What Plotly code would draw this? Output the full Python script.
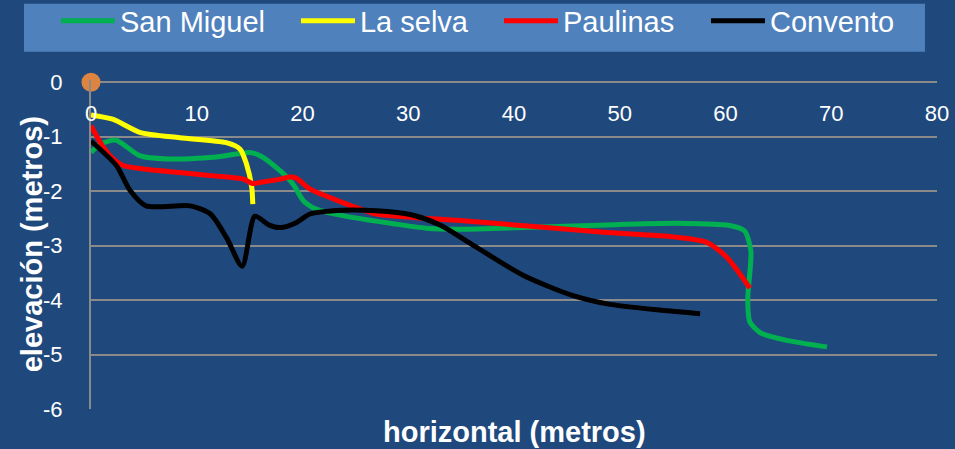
import plotly.graph_objects as go

# Perfiles de elevación (distancia horizontal en m, elevación en m)
san_miguel_x = [0, 0.85, 2.3, 3.05, 4.6, 7.2, 11.6, 15.0, 16.0, 17.9, 19.1, 20.1, 21.3, 23.8,
                28.6, 31.7, 34.9, 42.5, 48.8, 55.1, 57.6, 60.4, 61.8, 62.4, 62.1, 62.3, 63.3, 65.8, 69.6]
san_miguel_y = [-1.29, -1.14, -1.06, -1.14, -1.35, -1.41, -1.38, -1.29, -1.35, -1.63, -1.87, -2.18, -2.33, -2.45,
                -2.6, -2.68, -2.70, -2.66, -2.62, -2.59, -2.6, -2.63, -2.73, -3.1, -4.0, -4.4, -4.6, -4.74, -4.86]

la_selva_x = [0, 2.05, 4.6, 8.4, 12.8, 14.1, 14.7, 15.2, 15.3]
la_selva_y = [-0.6, -0.68, -0.92, -1.02, -1.11, -1.23, -1.5, -1.93, -2.24]

paulinas_x = [0, 0.8, 1.8, 3.05, 5.2, 8.4, 11.6, 14.4, 15.3, 16.0, 17.9, 18.8, 19.4, 20.7, 23.8,
              27.0, 30.2, 34.9, 42.5, 48.8, 55.1, 58.2, 60.1, 62.3]
paulinas_y = [-0.8, -1.08, -1.35, -1.53, -1.6, -1.66, -1.72, -1.78, -1.86, -1.84, -1.78, -1.74, -1.76, -1.96, -2.21,
              -2.42, -2.48, -2.54, -2.66, -2.76, -2.84, -2.94, -3.21, -3.78]

convento_x = [0, 2.4, 3.7, 5.2, 9.4, 11.3, 12.8, 14.3, 15.5, 16.8, 17.9, 19.4, 20.7, 23.8,
              27.0, 30.2, 33.0, 36.2, 40.9, 45.6, 48.8, 53.5, 57.6]
convento_y = [-1.08, -1.53, -1.99, -2.27, -2.27, -2.42, -2.85, -3.38, -2.46, -2.62, -2.67, -2.58, -2.42, -2.35,
              -2.36, -2.43, -2.62, -3.0, -3.55, -3.92, -4.07, -4.18, -4.25]

origen_x = [0]
origen_y = [0]

x_ticks = [0, 10, 20, 30, 40, 50, 60, 70, 80]
y_ticks = [0, -1, -2, -3, -4, -5, -6]
y_tick_text = ["0", "-1", "-2", "-3", "-4", "-5", "-6"]

BG = "#1F497D"
GRID = "#8A8A8A"
FONT = "Liberation Sans"

series = [
    ("San Miguel", san_miguel_x, san_miguel_y, "#00B050", 171),
    ("La selva", la_selva_x, la_selva_y, "#FFFF00", 134),
    ("Paulinas", paulinas_x, paulinas_y, "#FF0000", 138),
    ("Convento", convento_x, convento_y, "#000000", 130),
]

fig = go.Figure()
for name, xs, ys, color, lw in series:
    fig.add_trace(go.Scatter(
        x=xs, y=ys, name=name, mode="lines",
        line=dict(color=color, width=5, shape="spline", smoothing=0.7),
        legendwidth=lw,
    ))

fig.add_trace(go.Scatter(
    x=origen_x, y=origen_y, mode="markers", showlegend=False,
    marker=dict(color="#DD8441", size=19), cliponaxis=False,
))

fig.update_layout(
    width=955, height=449,
    margin=dict(l=91, r=18, t=80, b=40, autoexpand=False),
    paper_bgcolor=BG, plot_bgcolor=BG,
    font=dict(family=FONT, color="white"),
    showlegend=True,
    legend=dict(
        orientation="h", x=-0.0414, xanchor="left", y=1.18, yanchor="middle",
        bgcolor="rgba(0,0,0,0)", font=dict(size=29, color="white", family=FONT),
        itemwidth=54,
    ),
    shapes=[
        # caja de la leyenda
        dict(type="rect", xref="paper", yref="paper", layer="below",
             x0=-0.0792, x1=0.9858, y0=1.0855, y1=1.232,
             fillcolor="#4F81BD", line=dict(width=0)),
    ],
    annotations=[
        dict(text="<b>horizontal (metros)</b>", xref="paper", yref="paper",
             x=0.5, y=-0.07, xanchor="center", yanchor="middle", showarrow=False,
             font=dict(size=29, color="white", family=FONT)),
        dict(text="<b>elevación (metros)</b>", xref="paper", yref="paper",
             x=-0.07, y=0.5, xanchor="center", yanchor="middle", showarrow=False,
             textangle=-90, font=dict(size=29, color="white", family=FONT)),
    ],
)

# Eje horizontal sobre la línea de elevación 0, con etiquetas por debajo;
# el rango vertical deja un pequeño margen para que la línea 0 se dibuje
fig.update_xaxes(
    range=[0, 80], anchor="free", position=1, side="bottom", tickvals=x_ticks,
    ticklabelstandoff=18, ticks="", showgrid=False, zeroline=False,
    showline=False, tickfont=dict(size=22, color="white", family=FONT),
)
fig.update_yaxes(
    range=[-6, 0.04], tickvals=y_ticks, ticktext=y_tick_text, ticks="",
    ticklabelstandoff=22, showgrid=True, gridcolor=GRID, gridwidth=2,
    zeroline=False, showline=True, linecolor=GRID, linewidth=2,
    tickfont=dict(size=22, color="white", family=FONT),
)

fig.write_html("out.html")
